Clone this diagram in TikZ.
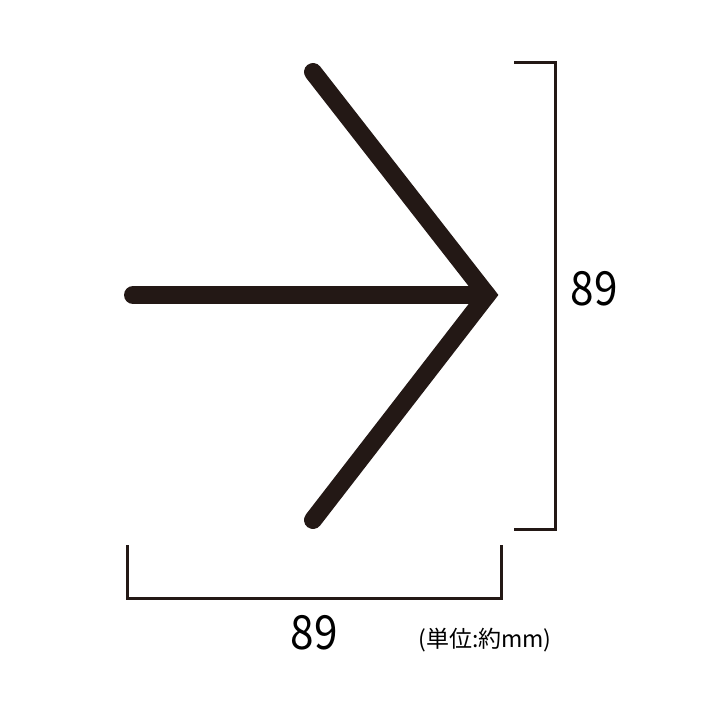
\documentclass[tikz,border=0pt]{standalone}
\usepackage{fontspec}
\setmainfont{Noto Sans CJK JP}
\newfontfamily\jpfont{Noto Sans CJK JP}
\definecolor{ink}{HTML}{231815}
\begin{document}
\begin{tikzpicture}[x=1pt,y=-1pt,
  shaft/.style={draw=ink,line width=18pt,line cap=round,line join=miter},
  bracket/.style={draw=ink,line width=3pt,line cap=butt,line join=miter},
  dimlabel/.style={font=\fontsize{47}{50}\selectfont,text=black,inner sep=0pt},
  unitlabel/.style={font=\jpfont\fontsize{23}{25}\selectfont,text=black,inner sep=0pt}]
\useasboundingbox (0,0) rectangle (713,713);
\fill[white] (0,0) rectangle (713,713);
% arrow
\coordinate (tail) at (133,295);
\coordinate (tip) at (487,295);
\coordinate (upper) at (313,72);
\coordinate (lower) at (313,520);
\draw[shaft] (tail) -- (tip);
\draw[shaft] (upper) -- (tip) -- (lower);
% right bracket
\coordinate (rt1) at (514,62);
\coordinate (rt2) at (555,62);
\coordinate (rb2) at (555,529);
\coordinate (rb1) at (514,529);
\draw[bracket] (rt1) -- (rt2) -- (rb2) -- (rb1);
% bottom bracket
\coordinate (bl1) at (127,545);
\coordinate (bl2) at (127,598);
\coordinate (br2) at (501,598);
\coordinate (br1) at (501,545);
\draw[bracket] (bl1) -- (bl2) -- (br2) -- (br1);
% labels
\node[dimlabel] (hlabel) at (594,289) {\scalebox{0.9}[1]{89}};
\node[dimlabel] (wlabel) at (314,633) {\scalebox{0.9}[1]{89}};
\node[unitlabel] (unit) at (485,640) {(単位:約mm)};
\end{tikzpicture}
\end{document}
